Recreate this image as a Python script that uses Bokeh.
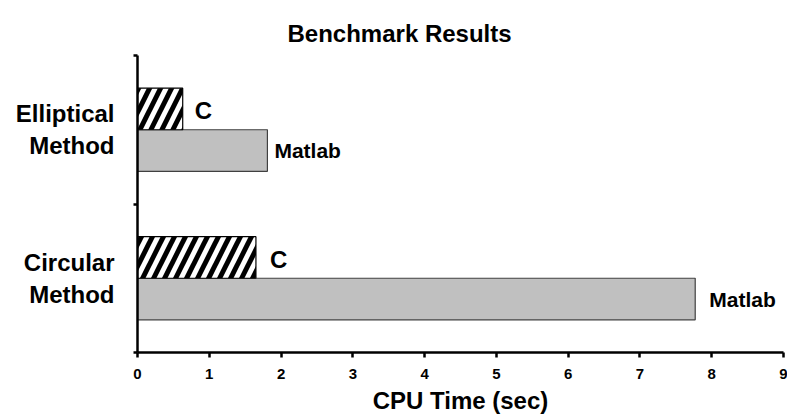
from bokeh.plotting import figure
from bokeh.models import Range1d, FixedTicker, ColumnDataSource
from bokeh.core.properties import value
from bokeh.embed import file_html
from bokeh.resources import INLINE

# ---- data ----
categories = ["Elliptical Method", "Circular Method"]
series_names = ["C", "Matlab"]
c_times = [0.63, 1.65]
matlab_times = [1.81, 7.77]
x_ticks = [0, 1, 2, 3, 4, 5, 6, 7, 8, 9]
title_text = "Benchmark Results"
x_label = "CPU Time (sec)"

# ---- style ----
FONT = "Liberation Sans"
BAR_H = 0.28
c_label_pad = [12, 14]
m_label_pad = [7, 14]

n = len(categories)
centers = [n - i - 0.5 for i in range(n)]

p = figure(width=787, height=418, output_backend="svg", toolbar_location=None,
           x_range=Range1d(0, 9), y_range=Range1d(0, n),
           min_border_left=137, min_border_right=4,
           min_border_top=55, min_border_bottom=66,
           title=title_text)

p.background_fill_color = "white"
p.border_fill_color = "white"
p.outline_line_color = None
p.grid.visible = False

# title
p.title.align = "left"
p.title.offset = 150
p.title.text_font = FONT
p.title.text_font_size = "24px"
p.title.text_font_style = "bold"
p.title.text_color = "black"
p.title.standoff = 18

c_src = ColumnDataSource(dict(
    y=[c + BAR_H / 2 for c in centers], right=c_times,
    label=[series_names[0]] * n, pad=c_label_pad))
m_src = ColumnDataSource(dict(
    y=[c - BAR_H / 2 for c in centers], right=matlab_times,
    label=[series_names[1]] * n, pad=m_label_pad))

p.hbar(y="y", left=0, right="right", height=BAR_H, source=m_src,
       fill_color="#c0c0c0", line_color="#404040", line_width=1.2)
p.hbar(y="y", left=0, right="right", height=BAR_H, source=c_src,
       fill_color="white", line_color="black", line_width=1.2,
       hatch_pattern="/", hatch_color="black", hatch_scale=22, hatch_weight=5)

p.text(x="right", y="y", text="label", x_offset="pad", y_offset=2, source=c_src,
       text_font=value(FONT), text_font_size="24px", text_font_style="bold",
       text_baseline="middle", text_align="left", text_color="black")
p.text(x="right", y="y", text="label", x_offset="pad", y_offset=0, source=m_src,
       text_font=value(FONT), text_font_size="21px", text_font_style="bold",
       text_baseline="middle", text_align="left", text_color="black")

# x axis
xa = p.xaxis[0]
xa.ticker = FixedTicker(ticks=x_ticks)
xa.axis_line_width = 2.5
xa.axis_line_color = "black"
xa.major_tick_line_width = 2.5
xa.major_tick_out = 5
xa.major_tick_in = 0
xa.minor_tick_line_color = None
xa.major_label_text_font = FONT
xa.major_label_text_font_size = "15px"
xa.major_label_text_font_style = "bold"
xa.major_label_text_color = "black"
xa.major_label_standoff = 11
xa.axis_label = x_label
xa.axis_label_text_font = FONT
xa.axis_label_text_font_size = "24px"
xa.axis_label_text_font_style = "bold"
xa.axis_label_text_color = "black"
xa.axis_label_standoff = 5

# y axis: category labels at band centres, ticks at band boundaries
ya = p.yaxis[0]
ya.ticker = FixedTicker(ticks=centers, minor_ticks=list(range(n + 1)))
ya.major_label_overrides = {c: cat.replace(" ", "\n") for c, cat in zip(centers, categories)}
ya.axis_line_width = 2.5
ya.axis_line_color = "black"
ya.major_tick_line_color = None
ya.major_tick_out = 0
ya.major_tick_in = 0
ya.minor_tick_line_color = "black"
ya.minor_tick_line_width = 2.5
ya.minor_tick_out = 4
ya.minor_tick_in = 0
ya.major_label_text_font = FONT
ya.major_label_text_font_size = "24px"
ya.major_label_text_font_style = "bold"
ya.major_label_text_color = "black"
ya.major_label_text_line_height = 1.2
ya.major_label_text_align = "center"
ya.major_label_standoff = 19

open("out.html", "w").write(file_html(p, INLINE))
